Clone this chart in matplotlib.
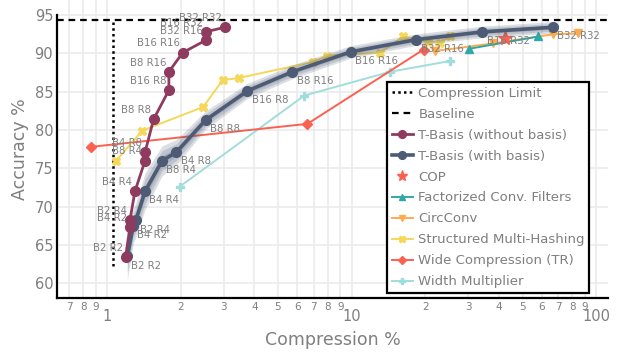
import numpy as np
import matplotlib
matplotlib.use("Agg")
import matplotlib.pyplot as plt
from matplotlib.ticker import FixedLocator, FuncFormatter

# T-Basis without basis
tb_nb_labels = ["B2 R2", "B4 R2", "B2 R4", "B4 R4", "B8 R4", "B4 R8", "B8 R8",
                "B16 R8", "B8 R16", "B16 R16", "B32 R16", "B16 R32", "B32 R32"]
tb_nb_x = [1.19, 1.24, 1.24, 1.30, 1.43, 1.43, 1.55, 1.79, 1.79, 2.04, 2.53, 2.53, 3.03]
tb_nb_y = [63.4, 67.3, 68.2, 72.0, 76.0, 77.1, 81.4, 85.2, 87.6, 90.1, 91.7, 92.8, 93.4]

# T-Basis with basis (mean and std over runs)
tb_labels = tb_nb_labels
tb_x = [1.21, 1.28, 1.31, 1.43, 1.68, 1.92, 2.53, 3.75, 5.73, 9.93, 18.4, 34.3, 66.5]
tb_y = [63.5, 67.5, 68.2, 72.0, 76.0, 77.1, 81.3, 85.1, 87.6, 90.2, 91.8, 92.8, 93.4]
tb_std = [1.0, 0.75, 0.75, 0.8, 0.65, 0.55, 0.4, 0.33, 0.3, 0.27, 0.25, 0.25, 0.25]

cop_x = [42.4]
cop_y = [92.0]

fcf_x = [30.3, 58.1]
fcf_y = [90.6, 92.2]

circ_x = [21.9, 38.0, 66.9, 84.7]
circ_y = [90.3, 91.3, 92.5, 92.6]

smh_x = [1.09, 1.39, 2.47, 2.97, 3.48, 6.98, 7.92, 13.1, 16.3, 20.5, 23.0, 25.3]
smh_y = [76.0, 79.9, 83.0, 86.5, 86.8, 88.9, 89.7, 90.1, 92.2, 91.5, 91.4, 92.3]

wide_x = [0.858, 6.6, 19.7]
wide_y = [77.8, 80.8, 90.5]

wm_x = [1.98, 6.41, 14.4, 25.3]
wm_y = [72.6, 84.5, 87.6, 89.0]

limit_x = 1.055
limit_y = [62.2, 94.3]
baseline_y = 94.3

grey = "#7f7f7f"
c_nb = "#8e3b5f"
c_tb = "#4d5b75"
c_red = "#fa6150"
c_teal = "#2fa8aa"
c_orange = "#fdab4e"
c_yellow = "#f5d75a"
c_cyan = "#a3dcdd"

fig = plt.figure(figsize=(6.17, 3.54), dpi=100)
ax = fig.add_axes([0.0929, 0.159, 0.892, 0.841])
ax.set_xscale("log")
ax.set_xlim(0.626, 111.5)
ax.set_ylim(58.12, 96.96)

ax.grid(which="both", color="#ebebeb", lw=1.2, zorder=0)
ax.set_axisbelow(True)

h_limit, = ax.plot([limit_x, limit_x], limit_y, ls=(0, (1, 1.3)), color="black", lw=1.8,
                   label="Compression Limit", zorder=2)
h_base = ax.axhline(baseline_y, ls=(0, (3, 2.2)), color="black", lw=1.6,
                    label="Baseline", zorder=2)

ms_small = 6
h_wm, = ax.plot(wm_x, wm_y, color=c_cyan, lw=1.4, marker="P", ms=ms_small,
                mec=c_cyan, label="Width Multiplier", zorder=3)
h_wide, = ax.plot(wide_x, wide_y, color=c_red, lw=1.4, marker="D", ms=5.5,
                  label="Wide Compression (TR)", zorder=3)
h_smh, = ax.plot(smh_x, smh_y, color=c_yellow, lw=1.4, marker="X", ms=ms_small,
                 label="Structured Multi-Hashing", zorder=3)
h_circ, = ax.plot(circ_x, circ_y, color=c_orange, lw=1.4, marker="v", ms=ms_small,
                  label="CircConv", zorder=3)
h_fcf, = ax.plot(fcf_x, fcf_y, color=c_teal, lw=1.4, marker="^", ms=ms_small,
                 label="Factorized Conv. Filters", zorder=3)
h_cop, = ax.plot(cop_x, cop_y, ls="none", color=c_red, marker="*", ms=10,
                 label="COP", zorder=4)

# shaded std bands for T-Basis (with basis)
tb_y_arr = np.array(tb_y)
tb_std_arr = np.array(tb_std)
for k in (3, 2, 1):
    ax.fill_between(tb_x, tb_y_arr - k * tb_std_arr, tb_y_arr + k * tb_std_arr,
                    color=c_tb, alpha=0.2, lw=0, zorder=4)
h_tb, = ax.plot(tb_x, tb_y, color=c_tb, lw=2.6, marker="o", ms=7,
                label="T-Basis (with basis)", zorder=5)
h_nb, = ax.plot(tb_nb_x, tb_nb_y, color=c_nb, lw=2.0, marker="o", ms=7,
                label="T-Basis (without basis)", zorder=6)

for x, y, t in zip(tb_nb_x, tb_nb_y, tb_nb_labels):
    ax.annotate(t, (x, y), xytext=(-2, 3), textcoords="offset points",
                ha="right", va="bottom", fontsize=7.3, color=grey, zorder=7)
for x, y, t in zip(tb_x, tb_y, tb_labels):
    ax.annotate(t, (x, y), xytext=(3, -3), textcoords="offset points",
                ha="left", va="top", fontsize=7.3, color=grey, zorder=7)

ax.xaxis.set_major_locator(FixedLocator([1, 10, 100]))
ax.xaxis.set_major_formatter(FuncFormatter(lambda v, p: f"{v:g}"))
minor = [0.7, 0.8, 0.9] + list(range(2, 10)) + list(range(20, 100, 10))
ax.xaxis.set_minor_locator(FixedLocator(minor))
ax.xaxis.set_minor_formatter(FuncFormatter(
    lambda v, p: str(int(round(v / 10 ** np.floor(np.log10(v)))))))
ax.tick_params(axis="x", which="minor", length=0, labelsize=7.5, pad=3, labelcolor=grey)
ax.tick_params(axis="x", which="major", length=0, labelsize=10.5, pad=8, labelcolor=grey)
ax.set_yticks([60, 65, 70, 75, 80, 85, 90, 95])
ax.tick_params(axis="y", length=0, labelsize=10.5, pad=3, labelcolor=grey)

for s in ("top", "right"):
    ax.spines[s].set_visible(False)
ax.spines["left"].set_linewidth(1.6)
ax.spines["bottom"].set_linewidth(1.6)
ax.spines["left"].set_bounds(58.12, 95)

ax.set_xlabel("Compression %", fontsize=12.5, color=grey, labelpad=5)
ax.set_ylabel("Accuracy %", fontsize=12.5, color=grey, labelpad=4)

handles = [h_limit, h_base, h_nb, h_tb, h_cop, h_fcf, h_circ, h_smh, h_wide, h_wm]
leg = ax.legend(handles=handles, loc="upper left", bbox_to_anchor=(0.5996, 0.7236),
                fontsize=9.5, frameon=True, fancybox=False, framealpha=1,
                edgecolor="black", handlelength=1.6, handletextpad=0.4,
                labelspacing=0.6, borderpad=0.35, borderaxespad=0, markerscale=0.8)
leg.get_frame().set_linewidth(1.6)
for t in leg.get_texts():
    t.set_color(grey)
leg.set_zorder(10)

fig.savefig("out.png", dpi=100)
